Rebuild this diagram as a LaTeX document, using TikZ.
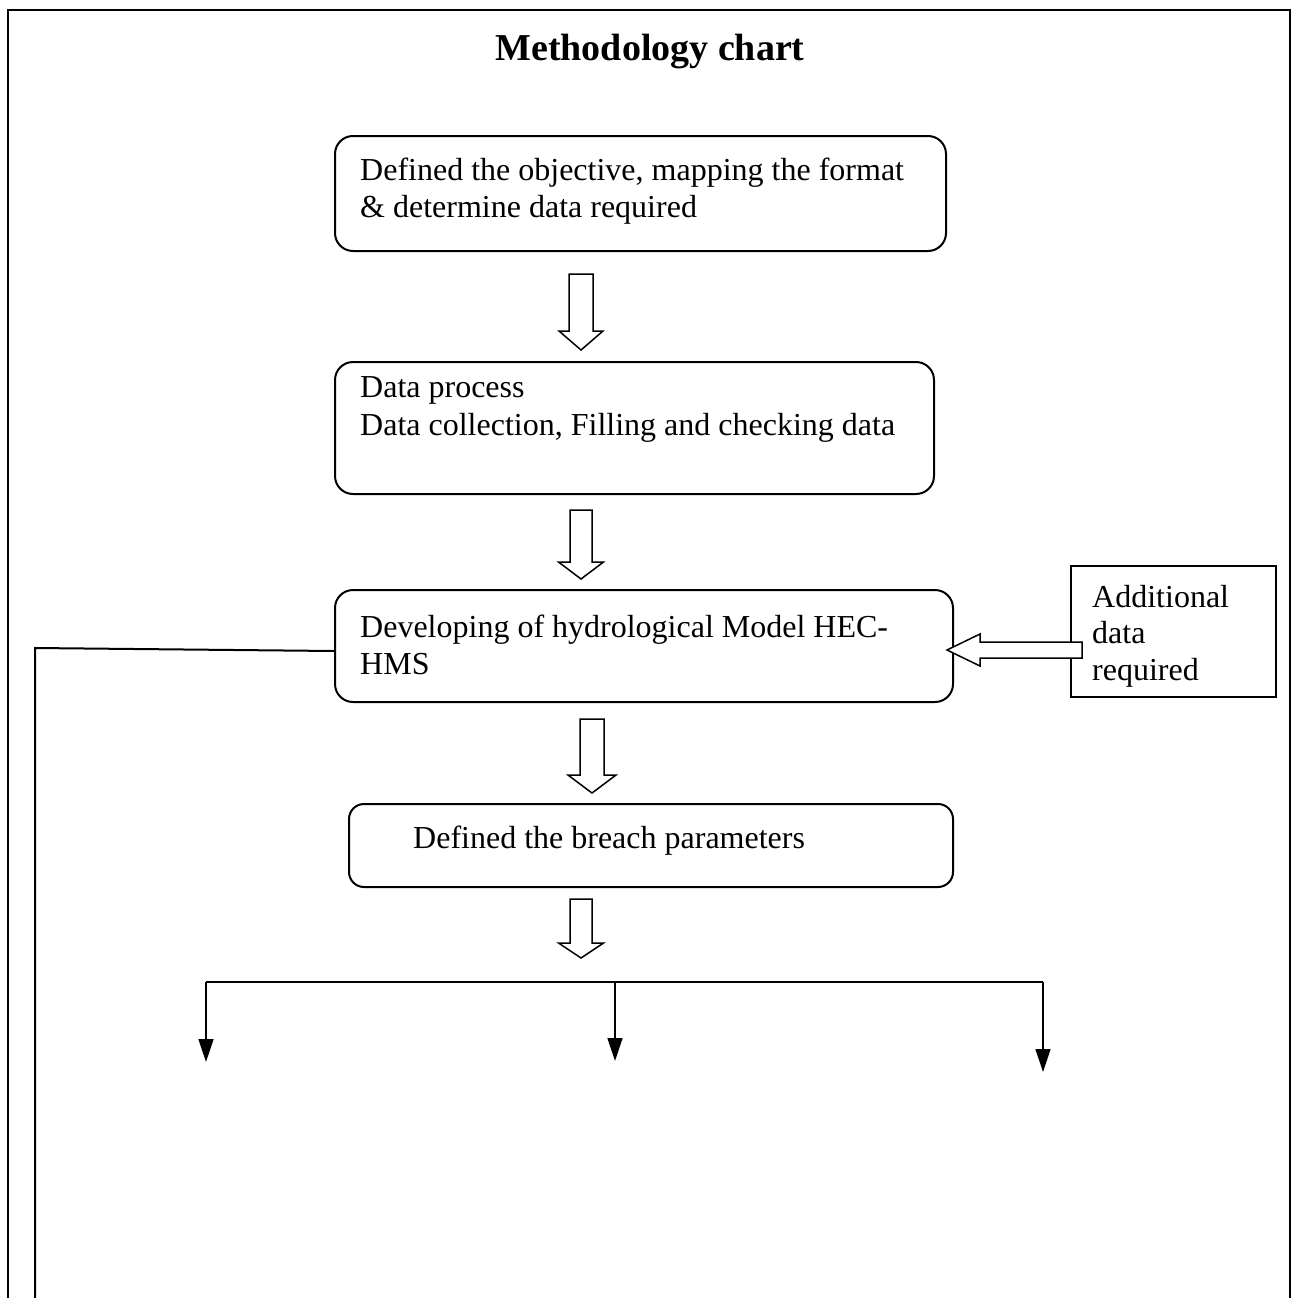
\documentclass[tikz,border=0pt]{standalone}
\usepackage{fontspec}
\setmainfont{Liberation Serif}
\usetikzlibrary{arrows.meta}

% hollow block arrow pointing down: x, top, head base, tip, half shaft, half head
\newcommand{\blockdown}[6]{%
  \draw[line width=1.5pt, fill=white] ({#1-#5},#2) -- ({#1+#5},#2) -- ({#1+#5},#3) -- ({#1+#6},#3)
    -- (#1,#4) -- ({#1-#6},#3) -- ({#1-#5},#3) -- cycle;}

\begin{document}
\begin{tikzpicture}[x=1pt,y=-1pt,
  stepbox/.style={draw, line width=2pt, rounded corners=18pt, inner sep=0pt},
  plainbox/.style={draw, line width=1.5pt, inner sep=0pt},
  txt/.style={anchor=base west, align=left, inner sep=0pt, font=\fontsize{32}{37}\selectfont},
  feed/.style={line width=2pt},
  branch/.style={line width=1.5pt, -{Triangle[width=15pt,length=23pt]}}]

\useasboundingbox (0,0) rectangle (1294,1298);

% Outer frame (open at the bottom)
\draw[line width=2.5pt] (8,1310) -- (8,10) -- (1290,10) -- (1290,1310);

% Title
\node[anchor=base, font=\fontsize{38}{46}\selectfont\bfseries] (title) at (650,61) {Methodology chart};

% Process boxes
\node[stepbox, minimum width=611, minimum height=115] (obj) at (640.5,193.5) {};
\node[stepbox, minimum width=599, minimum height=132] (proc) at (634.5,428) {};
\node[stepbox, minimum width=618, minimum height=112] (dev) at (644,646) {};
\node[stepbox, minimum width=604, minimum height=83, rounded corners=15pt] (brch) at (651,845.5) {};
\node[plainbox, minimum width=205, minimum height=131] (addl) at (1173.5,631.5) {};

% Box texts (base = last line)
\node[txt] (objtxt) at (360,217) {Defined the objective, mapping the format\\\& determine data required};
\node[txt, font=\fontsize{32}{38}\selectfont] (proctxt) at (360,435) {Data process\\Data collection, Filling and checking data};
\node[txt] (devtxt) at (360,674) {Developing of hydrological Model HEC-\\HMS};
\node[txt] (brchtxt) at (413,848) {Defined the breach parameters};
\node[txt, font=\fontsize{32}{36.5}\selectfont] (addltxt) at (1092,680) {Additional\\data\\required};

% Block arrows between the boxes
\blockdown{581}{274}{331}{350}{12}{22}
\blockdown{581}{510}{562}{579}{11}{22.5}
\blockdown{592}{719}{775}{793}{12}{24}
\blockdown{581}{899}{943}{958}{11}{22.5}

% Additional data into the model box
\draw[line width=1.5pt, fill=white] (1082,642) -- (980,642) -- (980,634) -- (947,650)
  -- (980,666) -- (980,658) -- (1082,658) -- cycle;

% Feedback line down the left side
\coordinate (fbk) at (35,648);
\coordinate (fbend) at (35,1310);
\draw[feed] ([yshift=-5pt]dev.west) -- (fbk) -- (fbend);

% Three branches below the breach parameters
\coordinate (bl) at (206,982);
\coordinate (bm) at (615,982);
\coordinate (br) at (1043,982);
\coordinate (tl) at (206,1062);
\coordinate (tm) at (615,1061);
\coordinate (tr) at (1043,1072);
\draw[line width=1.5pt] (bl) -- (br);
\draw[branch] (bl) -- (tl);
\draw[branch] (bm) -- (tm);
\draw[branch] (br) -- (tr);

\end{tikzpicture}
\end{document}
